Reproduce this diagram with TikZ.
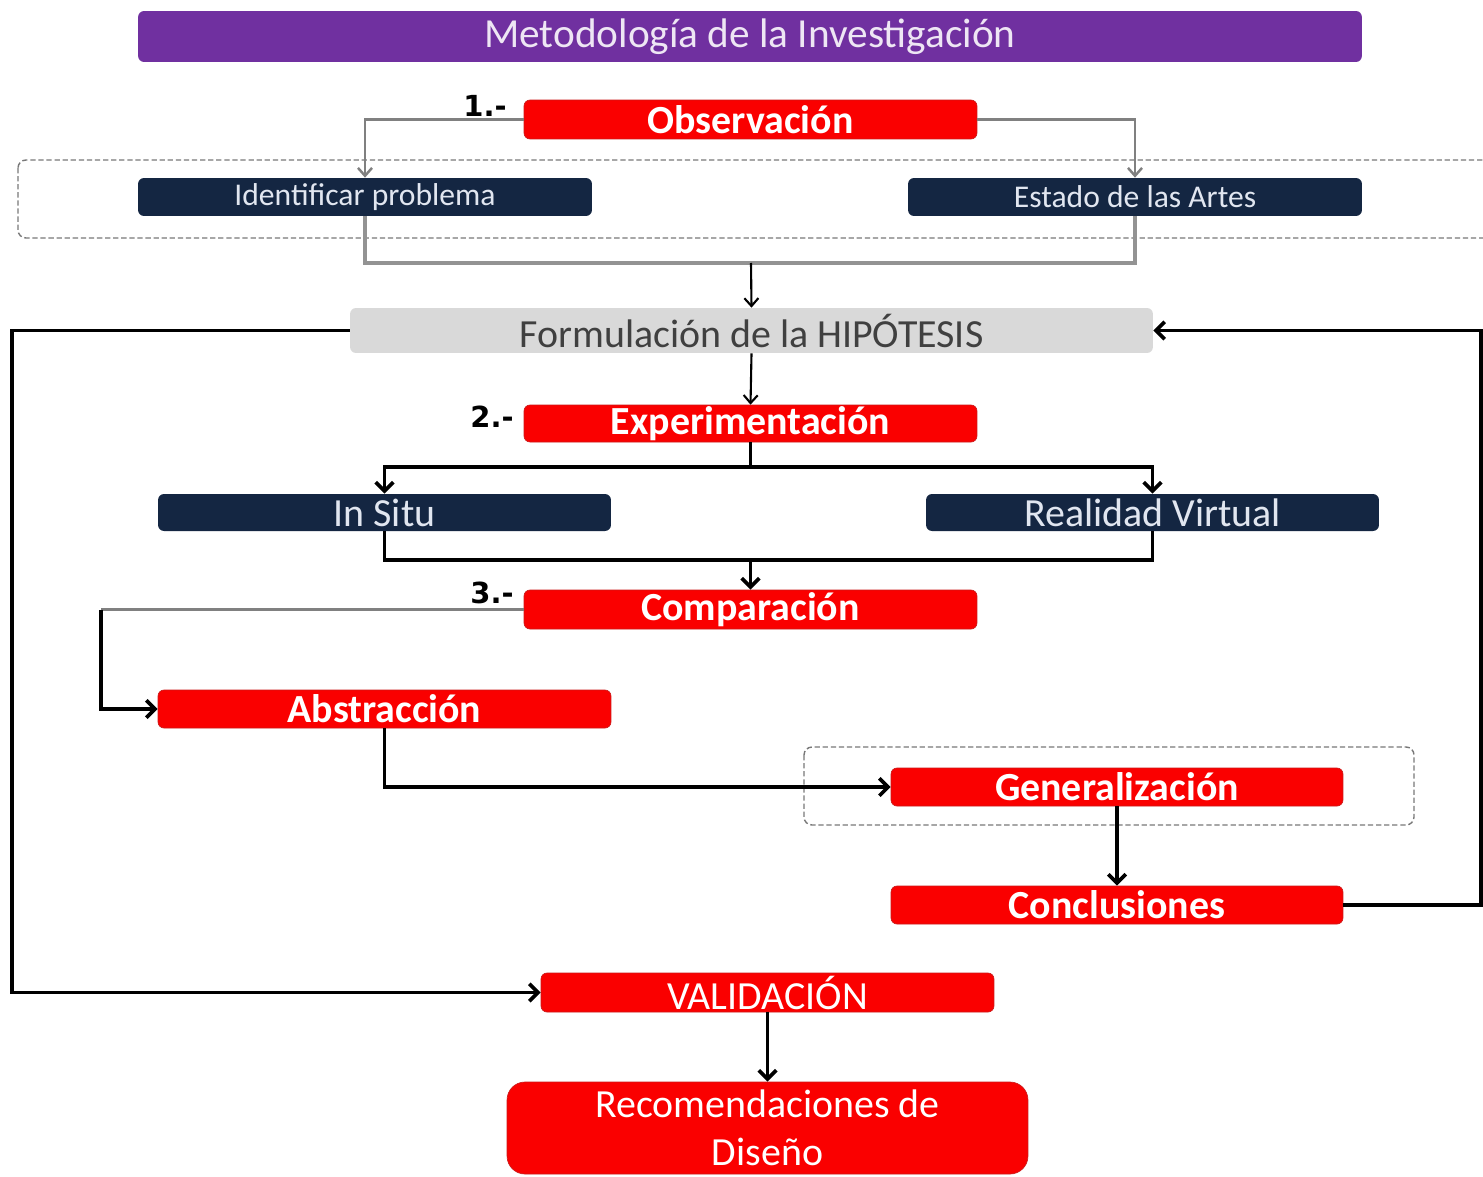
\documentclass[tikz,border=0pt]{standalone}
\usepackage{fontspec}
\setmainfont{Carlito}
\newfontfamily\numfont{DejaVu Sans}
\usetikzlibrary{arrows.meta}
\definecolor{titlepurple}{RGB}{112,48,160}
\definecolor{stepred}{RGB}{250,0,0}
\definecolor{stepredline}{RGB}{205,25,25}
\definecolor{navy}{RGB}{20,38,66}
\definecolor{navytext}{RGB}{225,230,240}
\definecolor{hypgray}{RGB}{217,217,217}
\definecolor{hyptext}{RGB}{64,64,64}
\definecolor{linkgray}{RGB}{128,128,128}
\definecolor{dashgray}{RGB}{120,120,120}
\begin{document}
\begin{tikzpicture}[x=0.02cm,y=-0.02cm,
  box/.style={rectangle, rounded corners=0.12cm, inner sep=0pt, align=center},
  titlebox/.style={box, fill=titlepurple, text=white!88!titlepurple,
    minimum width=24.48cm, minimum height=1.02cm,
    font=\fontsize{23.5}{26}\selectfont},
  redbox/.style={box, fill=stepred, draw=stepredline, line width=0.4pt, text=white,
    minimum width=9.06cm, font=\fontsize{22.7}{26}\selectfont\bfseries},
  redplain/.style={redbox, font=\fontsize{22.7}{26}\selectfont},
  navybox/.style={box, fill=navy, text=navytext, minimum width=9.08cm,
    minimum height=0.76cm},
  hypbox/.style={box, fill=hypgray, text=hyptext, minimum width=16.06cm,
    minimum height=0.9cm, font=\fontsize{22.7}{26}\selectfont},
  num/.style={inner sep=0pt, font=\numfont\bfseries\fontsize{16.5}{19}\selectfont},
  dashbox/.style={draw=dashgray, line width=0.8pt, dash pattern=on 3pt off 1.6pt,
    rounded corners=0.16cm},
  glink/.style={draw=linkgray, line width=1.4pt,
    -{Straight Barb[length=4.5pt,width=8pt]}},
  gline/.style={draw=linkgray!85, line width=2pt},
  thinlink/.style={draw=black, line width=1.2pt,
    -{Straight Barb[length=4.5pt,width=8pt]}},
  blink/.style={draw=black, line width=2.1pt,
    -{Straight Barb[length=5pt,width=10pt]}},
  bline/.style={draw=black, line width=2.1pt}
]
\useasboundingbox (0,0) rectangle (1483,1176);
\clip (0,0) rectangle (1483,1176);
\fill[white] (0,0) rectangle (1483,1176);

% grouping frames
\draw[dashbox] (18,160) rectangle (1530,238);
\draw[dashbox] (804,747) rectangle (1414,825);

% title
\node[titlebox] (title) at (750,36.5) {Metodología de la Investigación};

% stage 1
\node[redbox, minimum height=0.78cm] (obs) at (750.5,119.5) {Observación};
\node[num] (n1) at (485,106) {1.-};
\node[navybox, font=\fontsize{18}{21}\selectfont] (ident) at (365,197) {Identificar problema};
\node[navybox, font=\fontsize{18}{21}\selectfont] (estado) at (1135,197) {Estado de las Artes};
\node[hypbox] (form) at (751.5,330.5) {Formulación de la HIPÓTESIS};

% stage 2
\node[redbox, minimum height=0.74cm] (exp) at (750.5,423.5) {Experimentación};
\node[num] (n2) at (492,417) {2.-};
\node[navybox, minimum width=9.06cm, minimum height=0.74cm,
  font=\fontsize{22.7}{26}\selectfont] (insitu) at (384.5,512.5) {In Situ};
\node[navybox, minimum width=9.06cm, minimum height=0.74cm,
  font=\fontsize{22.7}{26}\selectfont] (rv) at (1152.5,512.5) {Realidad Virtual};

% stage 3
\node[redbox, minimum height=0.78cm] (comp) at (750.5,609.5) {Comparación};
\node[num] (n3) at (492,593) {3.-};
\node[redbox, minimum height=0.76cm] (abs) at (384.5,709) {Abstracción};
\node[redbox, minimum width=9.04cm, minimum height=0.76cm] (gen) at (1117,787) {Generalización};
\node[redbox, minimum width=9.04cm, minimum height=0.76cm] (concl) at (1117,905) {Conclusiones};
\node[redplain, minimum height=0.78cm] (valid) at (767.5,992.5) {VALIDACIÓN};
\node[redplain, minimum width=10.42cm, minimum height=1.84cm, rounded corners=0.36cm,
  font=\fontsize{22.7}{27.5}\selectfont] (recom) at (767.5,1128)
  {Recomendaciones de\\Diseño};

% junction points
\coordinate (j1) at (751,263);
\coordinate (j2) at (750.5,467);
\coordinate (j3) at (750.5,560);
\coordinate (lc1) at (12,330.5);
\coordinate (rc1) at (1481,330.5);
\coordinate (lc2) at (101,609.5);

% connectors
\draw[glink] (obs.west) -| (ident.north);
\draw[glink] (obs.east) -| (estado.north);
\draw[gline] (ident.south) |- (j1) -| (estado.south);
\draw[thinlink] (j1) -- (form.north);
\draw[blink] (form.west) -- (lc1) |- (valid.west);
\draw[blink] (concl.east) -| (rc1) -- (form.east);
\draw[thinlink] (form.south) -- (exp.north);
\draw[bline] (exp.south) -- (j2);
\draw[blink] (j2) -| (insitu.north);
\draw[blink] (j2) -| (rv.north);
\draw[bline] (insitu.south) |- (j3) -| (rv.south);
\draw[blink] (j3) -- (comp.north);
\draw[draw=linkgray, line width=2.1pt] (comp.west) -- (lc2);
\draw[blink] (lc2) |- (abs.west);
\draw[blink] (abs.south) |- (gen.west);
\draw[blink] (gen.south) -- (concl.north);
\draw[blink] (valid.south) -- (recom.north);
\end{tikzpicture}
\end{document}
